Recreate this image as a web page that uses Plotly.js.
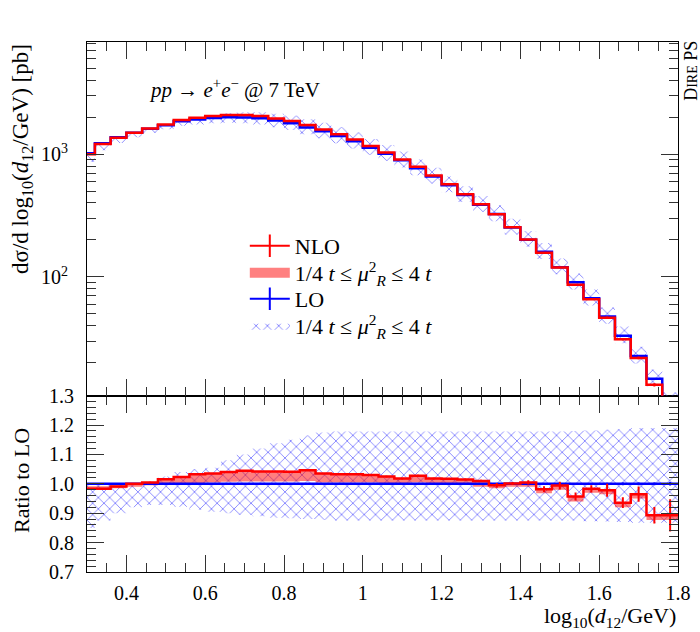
<!DOCTYPE html>
<html>
<head>
<meta charset="utf-8">
<script src="https://cdn.plot.ly/plotly-3.0.1.min.js"></script>
<style>html,body{margin:0;padding:0;background:#fff;}</style>
</head>
<body>
<div id="chart" style="width:700px;height:632px;"></div>
<script>
// ---- data ----
const binLo = [0.28,0.32,0.36,0.40,0.44,0.48,0.52,0.56,0.60,0.64,0.68,0.72,0.76,0.80,0.84,0.88,0.92,0.96,1.00,1.04,1.08,1.12,1.16,1.20,1.24,1.28,1.32,1.36,1.40,1.44,1.48,1.52,1.56,1.60,1.64,1.68,1.72,1.76];
const binHiLast = 1.80;
const LO = [1017,1227,1370,1492,1612,1718,1849,1913,1972,2000,1990,1959,1874,1784,1647,1535,1402,1271,1128,1007,890,768,658,559,465,387,325,253,201,160,120,90.3,66.9,47.6,33.2,22.7,14.8,9.6];
const nloRatio = [0.983,0.983,0.991,1.000,1.005,1.016,1.023,1.033,1.035,1.040,1.045,1.042,1.042,1.041,1.046,1.035,1.033,1.033,1.030,1.025,1.018,1.028,1.018,1.017,1.015,1.010,0.995,1.001,1.005,0.982,0.994,0.957,0.983,0.978,0.936,0.965,0.893,0.893];
const nloBandLo = [0.979,0.979,0.985,0.990,0.995,1.000,1.000,1.003,1.005,1.007,1.008,1.008,1.008,1.008,1.010,1.005,1.005,1.005,1.005,1.003,1.000,1.005,1.000,1.000,0.998,0.990,0.985,0.990,0.990,0.968,0.980,0.940,0.970,0.965,0.920,0.950,0.877,0.877];
const nloBandHi = [0.992,0.992,0.995,1.000,1.005,1.016,1.023,1.033,1.035,1.040,1.045,1.042,1.042,1.041,1.046,1.035,1.033,1.033,1.030,1.025,1.018,1.028,1.018,1.017,1.015,1.010,0.998,1.003,1.005,0.985,0.996,0.958,0.985,0.980,0.937,0.967,0.895,0.895];
const loBandLo = [0.850,0.875,0.900,0.920,0.928,0.928,0.922,0.912,0.905,0.900,0.895,0.890,0.885,0.883,0.880,0.878,0.875,0.875,0.875,0.875,0.875,0.875,0.875,0.875,0.875,0.875,0.875,0.875,0.875,0.875,0.875,0.875,0.873,0.872,0.870,0.868,0.868,0.868];
const loBandHi = [1.000,1.000,1.000,1.000,1.005,1.025,1.040,1.050,1.055,1.080,1.100,1.120,1.138,1.150,1.165,1.175,1.178,1.178,1.178,1.178,1.178,1.178,1.178,1.178,1.178,1.178,1.178,1.178,1.178,1.178,1.178,1.180,1.182,1.184,1.186,1.190,1.190,1.190];
const nloErr = [0.002,0.002,0.002,0.002,0.002,0.002,0.002,0.002,0.002,0.002,0.002,0.002,0.002,0.002,0.002,0.002,0.002,0.003,0.003,0.003,0.003,0.003,0.003,0.003,0.003,0.004,0.008,0.005,0.007,0.010,0.013,0.014,0.012,0.022,0.018,0.026,0.028,0.055];
const loErr = [0.001,0.001,0.001,0.001,0.001,0.001,0.001,0.001,0.001,0.001,0.001,0.001,0.001,0.001,0.001,0.001,0.001,0.001,0.001,0.001,0.001,0.001,0.001,0.001,0.001,0.001,0.002,0.002,0.002,0.002,0.003,0.003,0.003,0.004,0.005,0.005,0.005,0.006];
const xTickVals = [0.4,0.6,0.8,1.0,1.2,1.4,1.6,1.8];
const xTickText = ['0.4','0.6','0.8','1','1.2','1.4','1.6','1.8'];
const rTickVals = [0.7,0.8,0.9,1.0,1.1,1.2,1.3];
const rTickText = ['0.7','0.8','0.9','1.0','1.1','1.2','1.3'];
const mTickVals = [100,1000];
const mTickText = ['10<sup>2</sup>','10<sup>3</sup>'];
const mMinorVals = [20,30,40,50,60,70,80,90,200,300,400,500,600,700,800,900,2000,3000,4000,5000,6000,7000,8000];
const legendNames = ['NLO', '1/4 <i>t</i> ≤ <i>μ</i><sup>2</sup><sub><i>R</i></sub> ≤ 4 <i>t</i>', 'LO', '1/4 <i>t</i> ≤ <i>μ</i><sup>2</sup><sub><i>R</i></sub> ≤ 4 <i>t</i>'];

// ---- helpers ----
const edgesX = binLo.concat([binHiLast]);
const centers = binLo.map((v,i)=> (v + (i+1<binLo.length ? binLo[i+1] : binHiLast))/2);
const stepY = arr => arr.concat([arr[arr.length-1]]);
const NLO = LO.map((v,i)=> v*nloRatio[i]);
const loRatio = LO.map((v,i)=> LO[i]/v);

const RED='#ff0000', BLUE='#0000ff';
const hatch = {shape:'x', fgcolor:'rgba(70,70,255,0.8)', bgcolor:'rgba(0,0,0,0)', size:8, solidity:0.18, fillmode:'replace'};
const REDFILL='rgba(255,0,0,0.5)';

function stepTrace(y, xa, ya, extra){
  return Object.assign({x:edgesX, y:stepY(y), xaxis:xa, yaxis:ya, mode:'lines', line:{shape:'hv', width:0}, showlegend:false, hoverinfo:'skip'}, extra||{});
}
function errTrace(y, err, color, xa, ya){
  return {x:centers, y:y, xaxis:xa, yaxis:ya, mode:'markers', marker:{size:1, color:'rgba(0,0,0,0)'},
    error_y:{type:'data', array:err, visible:true, color:color, thickness:2, width:0}, showlegend:false, hoverinfo:'skip'};
}

const traces = [];
// ratio panel
traces.push(stepTrace(loBandLo,'x','y'));
traces.push(stepTrace(loBandHi,'x','y',{fill:'tonexty', fillcolor:'rgba(0,0,0,0)', fillpattern:hatch}));
traces.push(stepTrace(nloBandLo,'x','y'));
traces.push(stepTrace(nloBandHi,'x','y',{fill:'tonexty', fillcolor:REDFILL}));
traces.push(stepTrace(loRatio,'x','y',{line:{shape:'hv', width:2.5, color:BLUE}}));
traces.push(errTrace(loRatio, loErr, BLUE, 'x','y'));
traces.push(stepTrace(nloRatio,'x','y',{line:{shape:'hv', width:2.5, color:RED}}));
traces.push(errTrace(nloRatio, nloErr, RED, 'x','y'));
// main panel
traces.push(stepTrace(LO.map((v,i)=>v*loBandLo[i]),'x2','y2'));
traces.push(stepTrace(LO.map((v,i)=>v*loBandHi[i]),'x2','y2',{fill:'tonexty', fillcolor:'rgba(0,0,0,0)', fillpattern:hatch}));
traces.push(stepTrace(LO.map((v,i)=>v*nloBandLo[i]),'x2','y2'));
traces.push(stepTrace(LO.map((v,i)=>v*nloBandHi[i]),'x2','y2',{fill:'tonexty', fillcolor:REDFILL}));
traces.push(stepTrace(LO,'x2','y2',{line:{shape:'hv', width:2.5, color:BLUE}}));
traces.push(errTrace(LO, LO.map((v,i)=>v*loErr[i]), BLUE, 'x2','y2'));
traces.push(stepTrace(NLO,'x2','y2',{line:{shape:'hv', width:2.5, color:RED}}));
traces.push(errTrace(NLO, LO.map((v,i)=>v*nloErr[i]), RED, 'x2','y2'));
// legend entries (one legend per row for exact spacing)
traces.push({x:[null], y:[null], xaxis:'x2', yaxis:'y2', legend:'legend', name:legendNames[0], mode:'lines+markers', line:{color:RED, width:2}, marker:{symbol:'line-ns-open', size:18, color:RED, line:{color:RED, width:2}}});
traces.push({x:[null], y:[null], xaxis:'x2', yaxis:'y2', legend:'legend2', name:legendNames[1], mode:'lines', line:{color:'rgb(255,128,128)', width:14}});
traces.push({x:[null], y:[null], xaxis:'x2', yaxis:'y2', legend:'legend3', name:legendNames[2], mode:'lines+markers', line:{color:BLUE, width:2}, marker:{symbol:'line-ns-open', size:18, color:BLUE, line:{color:BLUE, width:2}}});
traces.push({x:[null], y:[null], xaxis:'x2', yaxis:'y2', legend:'legend4', name:legendNames[3], mode:'lines', fill:'toself', fillcolor:'rgba(0,0,0,0)', fillpattern:hatch, line:{width:0}});

const FONT = 'Liberation Serif, DejaVu Serif, serif';
const TC = '#333';
const commonX = {range:[0.3,1.8], tickmode:'array', tickvals:xTickVals, ticktext:xTickText, ticks:'inside', ticklen:17, tickwidth:1, tickcolor:TC,
  minor:{dtick:0.05, tick0:0, ticks:'inside', ticklen:9, tickwidth:1, tickcolor:TC, showgrid:false},
  showline:true, linecolor:'#000', linewidth:1, mirror:'ticks', showgrid:false, zeroline:false};

const split = 0.3326;
const legBase = {x:0.267, xanchor:'left', yanchor:'middle', bgcolor:'rgba(0,0,0,0)', borderwidth:0, font:{family:FONT, size:22}, itemwidth:40};
const layout = {
  width:700, height:632,
  margin:{l:87, r:22, t:42, b:60},
  paper_bgcolor:'#fff', plot_bgcolor:'#fff',
  font:{family:FONT, size:20, color:'#000'},
  showlegend:true,
  legend:  Object.assign({}, legBase, {y:0.6151}),
  legend2: Object.assign({}, legBase, {y:0.5642}),
  legend3: Object.assign({}, legBase, {y:0.5151}),
  legend4: Object.assign({}, legBase, {y:0.4642}),
  xaxis: Object.assign({}, commonX, {domain:[0,1], anchor:'y', ticklabelstandoff:3, tickfont:{size:20}}),
  xaxis2: Object.assign({}, commonX, {domain:[0,1], anchor:'y2', matches:'x', showticklabels:false}),
  yaxis:{domain:[0,split], anchor:'x', range:[0.7,1.3], tickmode:'array', tickvals:rTickVals, ticktext:rTickText,
    ticks:'inside', ticklen:17, tickwidth:1, tickcolor:TC, ticklabelstandoff:8, tickfont:{size:20},
    minor:{dtick:0.02, tick0:0.7, ticks:'inside', ticklen:9, tickwidth:1, tickcolor:TC, showgrid:false},
    showline:true, linecolor:'#000', linewidth:1, mirror:'ticks', showgrid:false, zeroline:false},
  yaxis2:{domain:[split,1], anchor:'x2', type:'log', range:[1.0325,3.913], tickmode:'array', tickvals:mTickVals, ticktext:mTickText,
    ticks:'inside', ticklen:17, tickwidth:1, tickcolor:TC, ticklabelstandoff:14, tickfont:{size:20},
    minor:{tickmode:'array', tickvals:mMinorVals, ticks:'inside', ticklen:9, tickwidth:1, tickcolor:TC, showgrid:false},
    showline:true, linecolor:'#000', linewidth:1, mirror:'ticks', showgrid:false, zeroline:false},
  annotations:[
    {xref:'paper', yref:'paper', x:0.1015, y:0.913, xanchor:'left', yanchor:'middle', showarrow:false,
     text:'<i>pp</i> → <i>e</i><sup>+</sup><i>e</i><sup>−</sup> @ 7 TeV', font:{family:FONT, size:21}},
    {xref:'paper', yref:'paper', x:1.022, y:1.006, xanchor:'center', yanchor:'top', showarrow:false, textangle:-90,
     text:'D<span style="font-size:14px">IRE</span> PS', font:{family:FONT, size:18}},
    {xref:'paper', yref:'paper', x:-0.11, y:1.0, xanchor:'center', yanchor:'top', showarrow:false, textangle:-90,
     text:'dσ/d log<sub>10</sub>(<i>d</i><sub>12</sub>/GeV) [pb]', font:{family:FONT, size:23}},
    {xref:'paper', yref:'paper', x:-0.11, y:0.1736, xanchor:'center', yanchor:'middle', showarrow:false, textangle:-90,
     text:'Ratio to LO', font:{family:FONT, size:22}},
    {xref:'paper', yref:'paper', x:1.0, y:-0.084, xanchor:'right', yanchor:'middle', showarrow:false,
     text:'log<sub>10</sub>(<i>d</i><sub>12</sub>/GeV)', font:{family:FONT, size:22}}
  ]
};

Plotly.newPlot('chart', traces, layout, {staticPlot:true, displayModeBar:false});
</script>
</body>
</html>
